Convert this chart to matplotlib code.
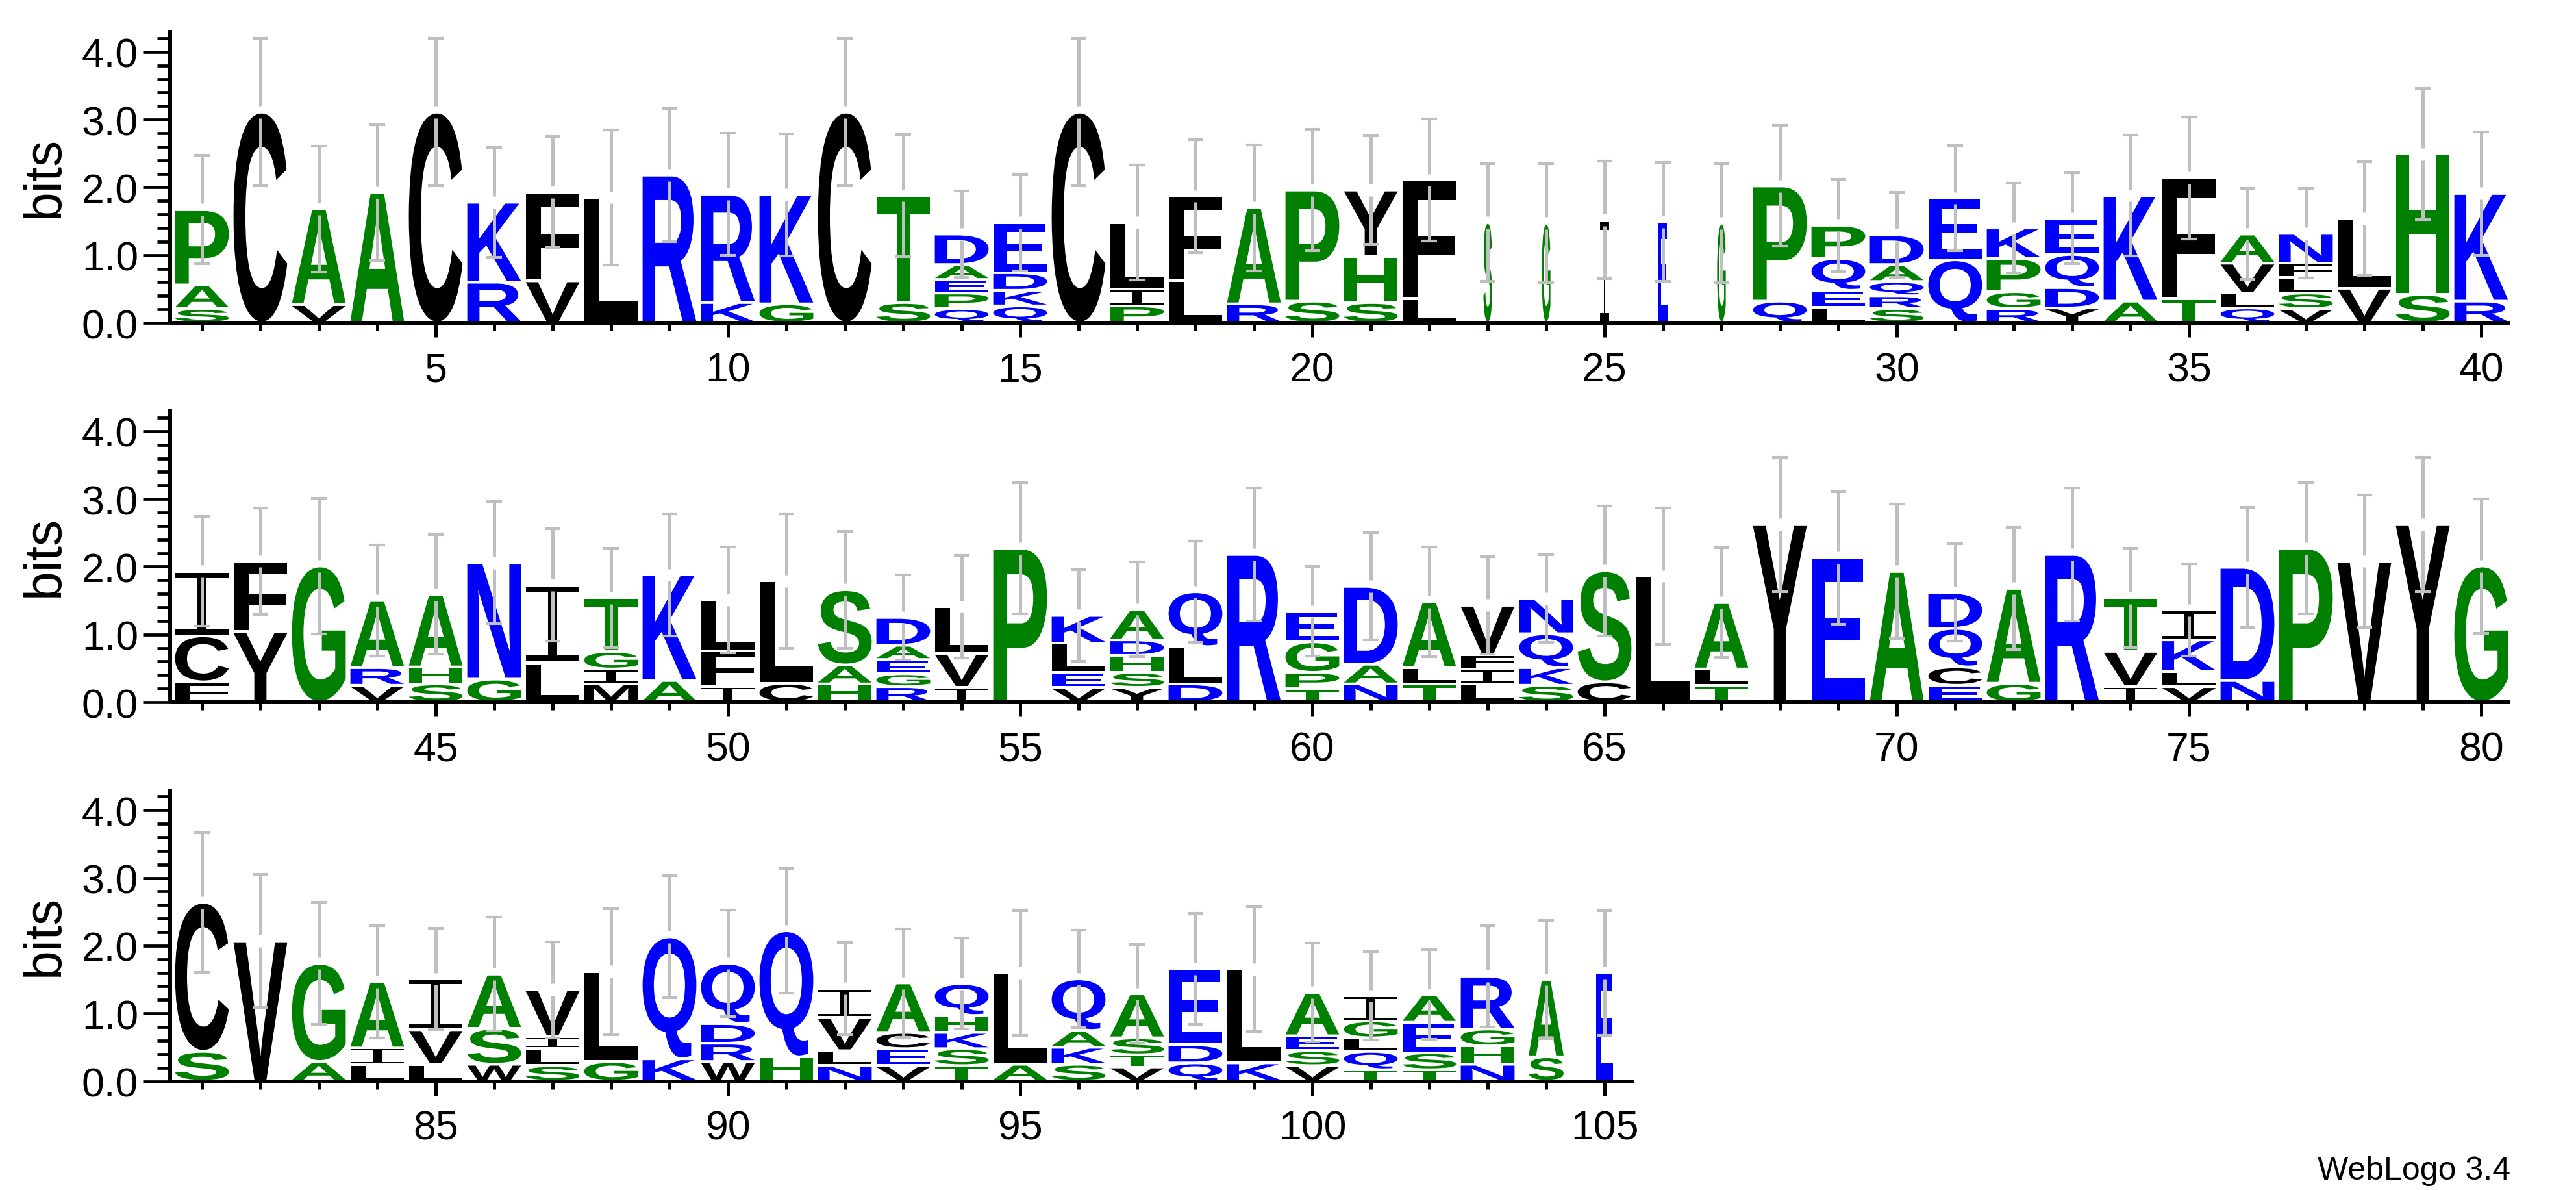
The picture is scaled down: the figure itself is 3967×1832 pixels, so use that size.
import matplotlib
matplotlib.use("Agg")
import matplotlib.pyplot as plt
from matplotlib.textpath import TextPath
from matplotlib.font_manager import FontProperties
from matplotlib.patches import PathPatch
from matplotlib.path import Path
from matplotlib.transforms import Affine2D
from matplotlib.ticker import MultipleLocator, FormatStrFormatter

# ---------------- data (letters listed bottom -> top) ----------------
start_row1, start_row2, start_row3 = 1, 41, 81

letters_row1 = ["SAP", "C", "VA", "A", "C", "RK", "VF", "L", "R", "KR",
                "GK", "C", "ST", "QPEAD", "QKDE", "C", "PIL", "LF", "RA", "SP",
                "SHY", "LF", "S", "G", "I", "E", "G", "QP", "LEQP", "SRQAD",
                "QE", "RGPK", "YDQE", "AK", "TF", "QLVA", "VSLFN", "VL", "SH", "RK"]
heights_row1 = [
    [0.21, 0.35, 1.11], [3.11], [0.27, 1.41], [1.92], [3.11],
    [0.60, 1.18], [0.62, 1.31], [1.85], [2.18], [0.30, 1.60],
    [0.28, 1.61], [3.11], [0.30, 1.58], [0.21, 0.23, 0.20, 0.22, 0.45], [0.25, 0.23, 0.26, 0.74],
    [3.11], [0.25, 0.25, 0.98], [0.62, 1.25], [0.28, 1.42], [0.32, 1.64],
    [0.30, 0.68, 0.98], [0.36, 1.75], [1.48], [1.47], [1.52],
    [1.49], [1.47], [0.32, 1.70], [0.23, 0.25, 0.47, 0.49], [0.21, 0.19, 0.21, 0.25, 0.44],
    [0.93, 0.91], [0.21, 0.25, 0.49, 0.45], [0.22, 0.30, 0.49, 0.53], [0.32, 1.56], [0.36, 1.78],
    [0.22, 0.22, 0.44, 0.43], [0.21, 0.23, 0.23, 0.21, 0.44], [0.51, 1.03], [0.42, 2.07], [0.32, 1.59]]
errors_row1 = [0.80, 1.09, 0.93, 1.00, 1.09, 0.81, 0.82, 1.00, 0.98, 0.90,
               0.90, 1.09, 0.90, 0.64, 0.71, 1.09, 0.85, 0.83, 0.93, 0.90,
               0.80, 0.90, 0.87, 0.88, 0.87, 0.88, 0.88, 0.89, 0.68, 0.63,
               0.78, 0.66, 0.67, 0.89, 0.90, 0.67, 0.66, 0.84, 0.97, 0.91]
widths_row1 = [1, 1, 1, 1, 1, 1, 1, 1, 1, 1,
               1, 1, 1, 1, 1, 1, 1, 1, 1, 1,
               1, 1, 0.16, 0.16, 0.16, 0.16, 0.16, 1, 1, 1,
               1, 1, 1, 1, 1, 1, 1, 1, 1, 1]

letters_row2 = ["FCI", "YF", "G", "VRA", "SHA", "GN", "LI", "MIGT", "AK", "IFL",
                "CL", "HAS", "RGEAD", "IVL", "P", "VELK", "YSHDA", "DLQ", "R", "TPGE",
                "NAD", "TLA", "LIFV", "SKQN", "CS", "L", "TLA", "Y", "E", "A",
                "ECQD", "GA", "R", "IVT", "VLKI", "ND", "P", "V", "Y", "G"]
heights_row2 = [
    [0.30, 0.68, 0.95], [1.04, 1.04], [2.01], [0.25, 0.26, 0.99], [0.27, 0.25, 1.07],
    [0.34, 1.72], [0.58, 1.15], [0.27, 0.22, 0.26, 0.79], [0.32, 1.56], [0.23, 0.53, 0.75],
    [0.28, 1.51], [0.27, 0.28, 1.11], [0.23, 0.19, 0.21, 0.21, 0.41], [0.22, 0.50, 0.69], [2.27],
    [0.22, 0.22, 0.43, 0.41], [0.22, 0.22, 0.25, 0.23, 0.45], [0.27, 0.55, 0.81], [2.18], [0.20, 0.24, 0.45, 0.45],
    [0.27, 0.29, 1.15], [0.27, 0.24, 0.97], [0.27, 0.22, 0.21, 0.73], [0.25, 0.26, 0.50, 0.52], [0.30, 1.64],
    [1.86], [0.25, 0.24, 0.98], [2.62], [2.13], [1.93],
    [0.25, 0.27, 0.57, 0.53], [0.28, 1.40], [2.18], [0.23, 0.52, 0.79], [0.23, 0.22, 0.47, 0.44],
    [0.32, 1.67], [2.27], [2.08], [2.62], [2.01]]
errors_row2 = [0.81, 0.79, 1.00, 0.82, 0.88, 0.90, 0.83, 0.73, 0.90, 0.78,
               0.99, 0.86, 0.63, 0.76, 0.97, 0.68, 0.70, 0.75, 0.98, 0.66,
               0.79, 0.81, 0.72, 0.65, 0.96, 1.01, 0.81, 0.99, 0.98, 0.99,
               0.72, 0.90, 0.98, 0.73, 0.68, 0.89, 0.97, 0.98, 0.99, 0.99]
widths_row2 = [1] * 40

letters_row3 = ["SC", "V", "AG", "LIA", "LVI", "WSA", "SLIV", "GL", "KQ", "WRDQ",
                "HQ", "NLVI", "VECA", "TSKHQ", "AL", "SKAQ", "VTSA", "QDE", "KL", "VSEA",
                "TQLGI", "TSEA", "NHGR", "SA", "E"]
heights_row3 = [
    [0.44, 2.20], [2.07], [0.29, 1.45], [0.25, 0.24, 0.98], [0.25, 0.51, 0.75],
    [0.25, 0.53, 0.80], [0.23, 0.25, 0.18, 0.69], [0.29, 1.33], [0.33, 1.80], [0.29, 0.27, 0.29, 0.89],
    [0.36, 1.86], [0.23, 0.22, 0.49, 0.43], [0.23, 0.25, 0.24, 0.73], [0.23, 0.25, 0.24, 0.25, 0.47], [0.25, 1.35],
    [0.25, 0.25, 0.25, 0.76], [0.21, 0.18, 0.25, 0.65], [0.27, 0.27, 1.12], [0.27, 1.38], [0.23, 0.22, 0.22, 0.64],
    [0.17, 0.27, 0.20, 0.25, 0.37], [0.17, 0.25, 0.45, 0.41], [0.25, 0.27, 0.25, 0.78], [0.36, 1.14], [1.60]]
errors_row3 = [1.03, 0.98, 0.90, 0.83, 0.75, 0.84, 0.71, 0.93, 0.90, 0.79,
               0.92, 0.68, 0.80, 0.67, 0.92, 0.72, 0.73, 0.82, 0.92, 0.73,
               0.65, 0.66, 0.75, 0.87, 0.92]
widths_row3 = [1] * 23 + [0.65, 0.31]

# hydrophobicity colour scheme
color_groups = {"RKDENQ": "#0000ff", "SGHTAP": "#008000", "YVMCLFIW": "#000000"}

# ---------------- style ----------------
plt.rcParams["font.family"] = ["Liberation Sans", "DejaVu Sans"]
W_PX, H_PX = 3967, 1833
fig = plt.figure(figsize=(W_PX / 100, H_PX / 100), dpi=100)

YMAX = 4.3219
PX_PER_BIT = 104.3
PX_PER_POS = 90.0
STACK_W = 0.92
PAD = 0.02
ERR_GAP = 0.09
CAP_W = 0.26
ERR_COLOR = "#bfbfbf"

fp_bold = FontProperties(family="Liberation Sans", weight="bold")
_cache = {}


def letter_path(ch):
    if ch not in _cache:
        if ch == "I":
            t, s = 0.085, 0.17
            verts = [(0, 0), (1, 0), (1, t), (0.5 + s / 2, t), (0.5 + s / 2, 1 - t), (1, 1 - t),
                     (1, 1), (0, 1), (0, 1 - t), (0.5 - s / 2, 1 - t), (0.5 - s / 2, t), (0, t), (0, 0)]
            p = Path(verts, closed=True)
        else:
            p = TextPath((0, 0), ch, size=100, prop=fp_bold)
        _cache[ch] = (p, p.get_extents())
    return _cache[ch]


def letter_color(ch):
    for k, v in color_groups.items():
        if ch in k:
            return v
    return "#000000"


def draw_letter(ax, ch, xc, y0, w, h):
    p, ext = letter_path(ch)
    tr = (Affine2D().translate(-ext.x0, -ext.y0)
          .scale(w / ext.width, h / ext.height)
          .translate(xc - w / 2, y0)) + ax.transData
    ax.add_patch(PathPatch(p, transform=tr, facecolor=letter_color(ch),
                           edgecolor="none", lw=0, zorder=1))


rows = [
    (start_row1, letters_row1, heights_row1, errors_row1, widths_row1, 498.0),
    (start_row2, letters_row2, heights_row2, errors_row2, widths_row2, 1082.0),
    (start_row3, letters_row3, heights_row3, errors_row3, widths_row3, 1665.5),
]

for start, letters, heights, errors, widths, base_px in rows:
    n = len(letters)
    x_lo, x_hi = start - 0.54, start + n - 0.5
    left_px = 311 - PX_PER_POS * 0.54
    w_px = PX_PER_POS * (x_hi - x_lo)
    h_px = PX_PER_BIT * YMAX
    ax = fig.add_axes([left_px / W_PX, 1 - base_px / H_PX, w_px / W_PX, h_px / H_PX])
    ax.set_xlim(x_lo, x_hi)
    ax.set_ylim(0, YMAX)
    ax.patch.set_alpha(0)

    for i in range(n):
        x = start + i
        w = STACK_W * widths[i]
        y = 0.0
        for ch, h in zip(letters[i], heights[i]):
            draw_letter(ax, ch, x, y + PAD, w, h - 2 * PAD)
            y += h
        e = errors[i]
        ax.vlines([x, x], [y + ERR_GAP, y - e], [y + e, y - ERR_GAP],
                  colors=ERR_COLOR, lw=3.6, zorder=3)
        ax.hlines([y - e, y + e], x - CAP_W / 2, x + CAP_W / 2,
                  colors=ERR_COLOR, lw=3.0, zorder=3)

    for s in ("top", "right"):
        ax.spines[s].set_visible(False)
    for s in ("left", "bottom"):
        ax.spines[s].set_linewidth(4.3)
        ax.spines[s].set_capstyle("butt")

    ax.yaxis.set_major_locator(MultipleLocator(1.0))
    ax.yaxis.set_minor_locator(MultipleLocator(0.2))
    ax.yaxis.set_major_formatter(FormatStrFormatter("%.1f"))
    ax.xaxis.set_major_locator(MultipleLocator(5))
    ax.xaxis.set_minor_locator(MultipleLocator(1))
    ax.tick_params(axis="y", which="major", length=30.6, width=3.4, pad=5.0, labelsize=45)
    ax.tick_params(axis="y", which="minor", length=14.4, width=3.4)
    ax.tick_params(axis="x", which="major", length=15.8, width=3.6, pad=15.5, labelsize=45)
    ax.tick_params(axis="x", which="minor", length=8.6, width=3.6)

    fig.text(69 / W_PX, 1 - (base_px - PX_PER_BIT * YMAX / 2) / H_PX, "bits",
             rotation=90, ha="center", va="center", fontsize=58)

fig.text(3866 / W_PX, 1 - 1816 / H_PX, "WebLogo 3.4", ha="right", va="baseline",
         fontsize=36)

fig.savefig("out.png", dpi=100, facecolor="white")
